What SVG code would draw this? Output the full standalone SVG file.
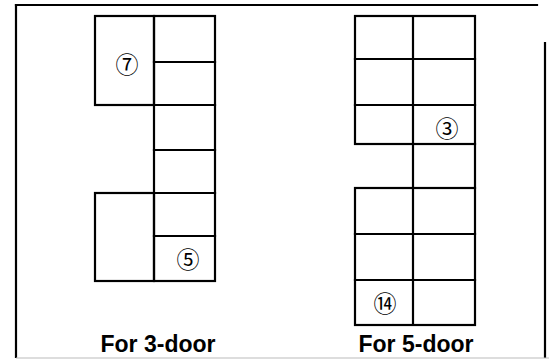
<svg xmlns="http://www.w3.org/2000/svg" width="549" height="359" viewBox="0 0 549 359">
<style>
.ln{stroke:#000;stroke-width:2.2;fill:none;stroke-linecap:square}
.box{stroke:#000;stroke-width:2.2;fill:none}
.num{font-family:"Noto Sans CJK JP","DejaVu Sans",sans-serif;font-size:23px;fill:#000;text-anchor:middle;dominant-baseline:central}
.cap{font-family:"Liberation Sans",Arial,sans-serif;font-weight:bold;font-size:23px;fill:#000;text-anchor:middle}
</style>
<rect width="549" height="359" fill="#fff"/>
<g id="frame">
<line x1="16" y1="5" x2="537" y2="5" class="ln"/>
<line x1="16" y1="5" x2="16" y2="357" class="ln" stroke-width="3"/>
<line x1="545" y1="43" x2="545" y2="357" class="ln" stroke-width="2.5"/>
<line x1="16" y1="358" x2="549" y2="358" stroke="#bbb" stroke-width="1"/>
</g>
<g id="three-door">
<rect x="95" y="16" width="59" height="89" class="box"/>
<rect x="154" y="16" width="61" height="265" class="box"/>
<line x1="154" y1="62" x2="215" y2="62" class="ln"/>
<line x1="154" y1="105" x2="215" y2="105" class="ln"/>
<line x1="154" y1="150" x2="215" y2="150" class="ln"/>
<line x1="154" y1="193" x2="215" y2="193" class="ln"/>
<line x1="154" y1="236" x2="215" y2="236" class="ln"/>
<rect x="95" y="193" width="59" height="88" class="box"/>
<text x="127" y="63" class="num">⑦</text>
<text x="188" y="258" class="num">⑤</text>
<text x="158" y="352" class="cap">For 3-door</text>
</g>
<g id="five-door">
<rect x="355" y="16" width="120" height="128" class="box"/>
<line x1="413" y1="16" x2="413" y2="325" class="ln"/>
<line x1="355" y1="59" x2="475" y2="59" class="ln"/>
<line x1="355" y1="105" x2="475" y2="105" class="ln"/>
<line x1="475" y1="144" x2="475" y2="188" class="ln"/>
<rect x="355" y="188" width="120" height="137" class="box"/>
<line x1="355" y1="234" x2="475" y2="234" class="ln"/>
<line x1="355" y1="280" x2="475" y2="280" class="ln"/>
<text x="447" y="127" class="num">③</text>
<text x="385" y="302" class="num">⑭</text>
<text x="416" y="352" class="cap">For 5-door</text>
</g>
</svg>
